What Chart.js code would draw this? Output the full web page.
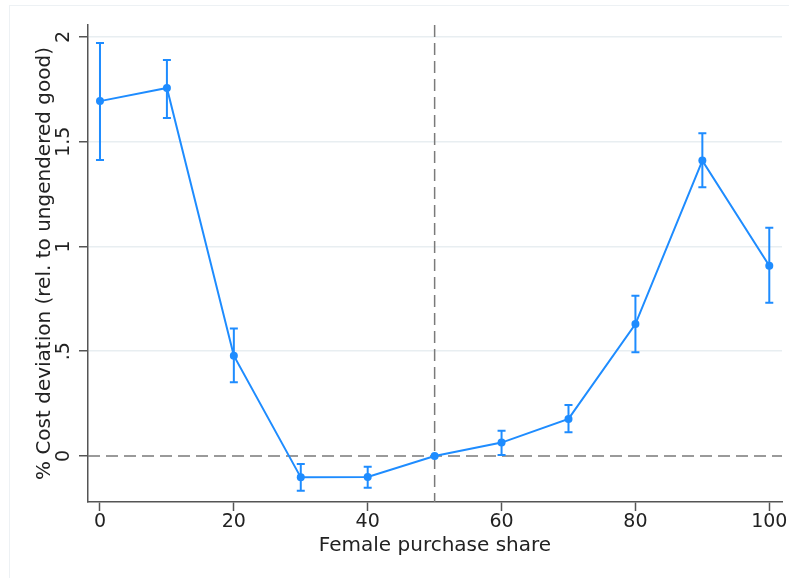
<!DOCTYPE html>
<html>
<head>
<meta charset="utf-8">
<script src="https://cdn.jsdelivr.net/npm/chart.js@4"></script>
<style>
html,body{margin:0;padding:0;background:#fff;}
#frame{position:absolute;left:9px;top:5px;width:800px;height:600px;border:1px solid #edf1f4;box-sizing:border-box;}
#c{position:absolute;left:0;top:0;}
</style>
</head>
<body>
<div id="frame"></div>
<canvas id="c" width="789" height="578"></canvas>
<script>
// Data
const shares = [0, 10, 20, 30, 40, 50, 60, 70, 80, 90, 100];
const estimates = [1.694, 1.757, 0.479, -0.102, -0.100, 0, 0.064, 0.177, 0.630, 1.410, 0.908];
const ciLow = [1.413, 1.613, 0.352, -0.166, -0.151, null, 0.005, 0.113, 0.495, 1.283, 0.732];
const ciHigh = [1.971, 1.890, 0.608, -0.038, -0.051, null, 0.121, 0.243, 0.765, 1.540, 1.090];
const yTickValues = [0, 0.5, 1, 1.5, 2];
const yTickLabels = ['0', '.5', '1', '1.5', '2'];
const xTickValues = [0, 20, 40, 60, 80, 100];
const refX = 50;
const refY = 0;

const BLUE = '#1e8cff';
const FONT = 'DejaVu Sans';

const refLines = {
  id: 'refLines',
  beforeDatasetsDraw(chart) {
    const {ctx, chartArea: a, scales: {x, y}} = chart;
    ctx.save();
    ctx.strokeStyle = '#7a7a7a';
    ctx.lineWidth = 1.5;
    ctx.setLineDash([12, 6]);
    const py = y.getPixelForValue(refY);
    ctx.beginPath(); ctx.moveTo(a.left, py); ctx.lineTo(a.right, py); ctx.stroke();
    const px = x.getPixelForValue(refX);
    ctx.beginPath(); ctx.moveTo(px, a.top); ctx.lineTo(px, a.bottom); ctx.stroke();
    ctx.restore();
  }
};

const errorBars = {
  id: 'errorBars',
  beforeDatasetsDraw(chart) {
    const {ctx, scales: {x, y}} = chart;
    ctx.save();
    ctx.strokeStyle = BLUE;
    ctx.lineWidth = 2;
    const cap = 4;
    shares.forEach((s, i) => {
      if (ciLow[i] == null || ciHigh[i] == null) return;
      const px = x.getPixelForValue(s);
      const p1 = y.getPixelForValue(ciLow[i]);
      const p2 = y.getPixelForValue(ciHigh[i]);
      ctx.beginPath();
      ctx.moveTo(px, p1); ctx.lineTo(px, p2);
      ctx.moveTo(px - cap, p1); ctx.lineTo(px + cap, p1);
      ctx.moveTo(px - cap, p2); ctx.lineTo(px + cap, p2);
      ctx.stroke();
    });
    ctx.restore();
  }
};

new Chart(document.getElementById('c'), {
  type: 'line',
  data: {
    datasets: [{
      data: shares.map((s, i) => ({x: s, y: estimates[i]})),
      borderColor: BLUE,
      backgroundColor: BLUE,
      pointBackgroundColor: BLUE,
      pointBorderColor: BLUE,
      borderWidth: 2,
      pointRadius: 4,
      pointBorderWidth: 0,
      tension: 0,
      fill: false
    }]
  },
  options: {
    responsive: false,
    animation: false,
    devicePixelRatio: 1,
    layout: {padding: {left: 0, top: 25, right: 7, bottom: 0}},
    plugins: {legend: {display: false}, tooltip: {enabled: false}},
    scales: {
      x: {
        type: 'linear',
        min: -1.79,
        max: 101.9,
        afterBuildTicks: s => { s.ticks = xTickValues.map(v => ({value: v})); },
        afterFit: s => { s.height = 76; },
        grid: {drawOnChartArea: false, drawTicks: true, tickLength: 9, tickColor: '#555', tickWidth: 1.5},
        border: {color: '#555', width: 1.5},
        ticks: {padding: 0, color: '#222', font: {family: FONT, size: 19}, maxRotation: 0, autoSkip: false},
        title: {display: true, text: 'Female purchase share', color: '#222', font: {family: FONT, size: 20}, padding: {top: 0, bottom: 20.5}}
      },
      y: {
        type: 'linear',
        min: -0.2196,
        max: 2.0573,
        afterBuildTicks: s => { s.ticks = yTickValues.map(v => ({value: v})); },
        afterFit: s => { s.width = 88; },
        grid: {
          color: c => (c.tick && c.tick.value === 0) ? 'rgba(0,0,0,0)' : '#e8eef1',
          lineWidth: 1.5,
          tickLength: 9, tickColor: '#555', tickWidth: 1.5
        },
        border: {color: '#555', width: 1.5},
        ticks: {
          padding: 0,
          minRotation: 90,
          maxRotation: 90,
          crossAlign: 'center',
          color: '#222',
          font: {family: FONT, size: 19},
          autoSkip: false,
          callback: v => { const k = yTickValues.indexOf(v); return k >= 0 ? yTickLabels[k] : ''; }
        },
        title: {display: true, text: '% Cost deviation (rel. to ungendered good)', color: '#222', font: {family: FONT, size: 20}, padding: {top: 33, bottom: 0}}
      }
    }
  },
  plugins: [refLines, errorBars]
});
</script>
</body>
</html>
